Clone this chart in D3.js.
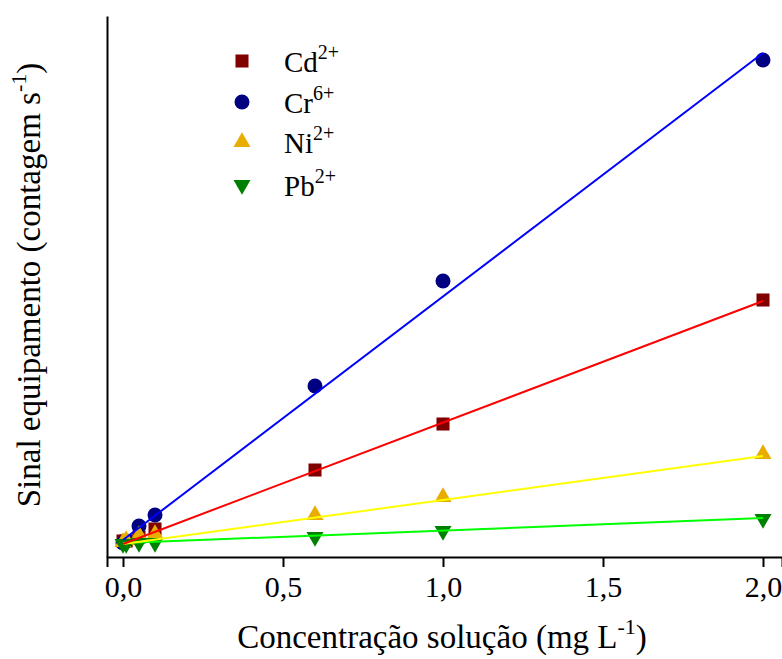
<!DOCTYPE html>
<html><head><meta charset="utf-8"><script src="https://cdn.jsdelivr.net/npm/d3@7"></script>
<style>
  #chart text, #chart tspan { font-family: 'Liberation Serif' !important; }
</style>
</head>
<body style="margin:0">
<svg id="chart" width="782" height="659" font-family="Liberation Serif"></svg>
<script>
// ---- data (signal in arbitrary counts s^-1) ----
const concentrations = [0, 0.01, 0.05, 0.1, 0.6, 1.0, 2.0];
const seriesNames = ["Cd", "Cr", "Ni", "Pb"];
const seriesCharges = ["2+", "6+", "2+", "2+"];
const cdValues = [1600, 1600, 2000, 2800, 8700, 13300, 25700];
const crValues = [1400, 1600, 3100, 4200, 17100, 27600, 49700];
const niValues = [1500, 1700, 2200, 2300, 4200, 6000, 10300];
const pbValues = [1300, 1300, 1400, 1400, 2000, 2600, 3800];
// fitted calibration lines: intercept and slope (counts per mg/L)
const fitIntercepts = [1300, 1700, 1300, 1400];
const fitSlopes = [12150, 24350, 4400, 1250];
const xTickValues = [0, 0.5, 1.0, 1.5, 2.0];

// ---- styles ----
const markerColors = ["#800000", "#000080", "#e8ad00", "#008000"];
const lineColors = ["#ff0000", "#0000ff", "#ffff00", "#00ff00"];
const markerTypes = [d3.symbolSquare, d3.symbolCircle, d3.symbolTriangle, d3.symbolTriangle];
const markerSizes = [170, 177, 125, 125];
const markerRotations = [0, 0, 0, 180];

const svg = d3.select("#chart");
const allValues = [cdValues, crValues, niValues, pbValues];

function serif(sel, size) {
  return sel.attr("font-family", "Liberation Serif")
    .style("font-family", "'Liberation Serif'", "important")
    .style("font-size", size + "px");
}

const x = d3.scaleLinear().domain([-0.05, 2.059375]).range([107, 782]);
const y = d3.scaleLinear().domain([0, 54100]).range([557, 16]);

// axes
const xAxis = d3.axisBottom(x)
  .tickValues(xTickValues)
  .tickSizeOuter(0)
  .tickSize(10)
  .tickPadding(9)
  .tickFormat(d => d3.format(".1f")(d).replace(".", ","));
const gx = svg.append("g").attr("transform", "translate(0,557)").call(xAxis);
gx.attr("font-family", "Liberation Serif").attr("font-size", 30);
gx.select(".domain").attr("stroke", "#000").attr("stroke-width", 2);
gx.selectAll(".tick line").attr("stroke", "#000").attr("stroke-width", 2);
serif(gx.selectAll(".tick text"), 30).attr("fill", "#000");

const yAxis = d3.axisLeft(y).tickValues([]).tickSizeOuter(0);
const gy = svg.append("g").attr("transform", "translate(107,0)").call(yAxis);
gy.select(".domain").attr("stroke", "#000").attr("stroke-width", 2);

// markers
seriesNames.forEach((name, i) => {
  const sym = d3.symbol().type(markerTypes[i]).size(markerSizes[i]);
  svg.append("g").selectAll("path")
    .data(concentrations.map((c, j) => [c, allValues[i][j]]))
    .join("path")
    .attr("d", sym)
    .attr("fill", markerColors[i])
    .attr("transform", d => `translate(${x(d[0])},${y(d[1])}) rotate(${markerRotations[i]})`);
});

// fit lines
const line = d3.line().x(d => x(d[0])).y(d => y(d[1]));
const order = [3, 2, 0, 1];
order.forEach(i => {
  const pts = [0, 2.0].map(c => [c, fitIntercepts[i] + fitSlopes[i] * c]);
  svg.append("path")
    .attr("d", line(pts))
    .attr("fill", "none")
    .attr("stroke", lineColors[i])
    .attr("stroke-width", 2);
});

// legend
const legendY = [61, 102, 142, 185];
seriesNames.forEach((name, i) => {
  const sym = d3.symbol().type(markerTypes[i]).size(markerSizes[i]);
  svg.append("path")
    .attr("d", sym)
    .attr("fill", markerColors[i])
    .attr("transform", `translate(242,${legendY[i]}) rotate(${markerRotations[i]})`);
  const t = serif(svg.append("text"), 29)
    .attr("x", 284)
    .attr("y", legendY[i] + 11);
  serif(t.append("tspan"), 29).text(name);
  serif(t.append("tspan"), 20).attr("dy", -13).text(seriesCharges[i]);
});

// axis titles
const xt = serif(svg.append("text"), 33)
  .attr("x", 442).attr("y", 648)
  .attr("text-anchor", "middle");
serif(xt.append("tspan"), 33).text("Concentração solução (mg L");
serif(xt.append("tspan"), 22).attr("dy", -14).text("-1");
serif(xt.append("tspan"), 33).attr("dy", 14).text(")");

const yt = serif(svg.append("text"), 33)
  .attr("transform", "translate(40,285) rotate(-90)")
  .attr("text-anchor", "middle");
serif(yt.append("tspan"), 33).text("Sinal equipamento (contagem s");
serif(yt.append("tspan"), 22).attr("dy", -14).text("-1");
serif(yt.append("tspan"), 33).attr("dy", 14).text(")");
</script>
</body>
</html>
